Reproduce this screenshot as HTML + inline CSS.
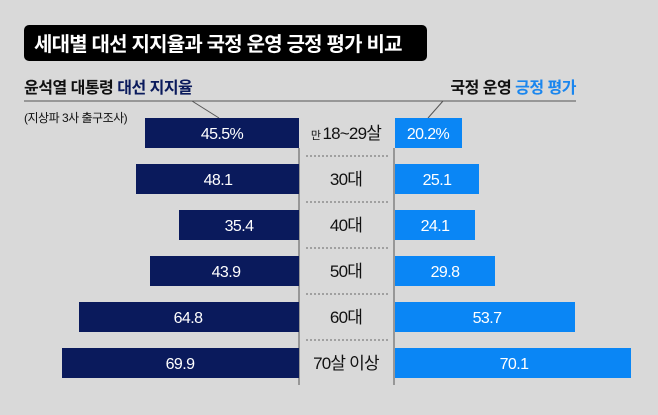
<!DOCTYPE html>
<html><head><meta charset="utf-8"><style>
body{margin:0;width:658px;height:410px;background:#d9d9d9;overflow:hidden;font-family:"Liberation Sans","Noto Sans CJK KR",sans-serif;}
svg text{font-family:"Liberation Sans","Noto Sans CJK KR",sans-serif;}
</style></head><body>
<svg width="658" height="410" viewBox="0 0 658 410" xmlns="http://www.w3.org/2000/svg">
<rect x="24" y="25" width="403" height="36" rx="5" fill="#000"/>
<text x="34" y="51" font-size="20" font-weight="bold" fill="#fff" letter-spacing="-0.8">세대별 대선 지지율과 국정 운영 긍정 평가 비교</text>
<text x="24" y="93" font-size="16" font-weight="bold" fill="#111" letter-spacing="-0.5">윤석열 대통령 <tspan fill="#0a1a5c">대선 지지율</tspan></text>
<text x="576" y="93" font-size="16" font-weight="bold" fill="#111" text-anchor="end" letter-spacing="-0.5">국정 운영 <tspan fill="#1a86ee">긍정 평가</tspan></text>
<line x1="24" y1="101" x2="576" y2="101" stroke="#555" stroke-width="1"/>
<line x1="192" y1="101" x2="219" y2="118" stroke="#555" stroke-width="1"/>
<line x1="443" y1="101" x2="428" y2="118" stroke="#555" stroke-width="1"/>
<text x="24" y="122" font-size="12" fill="#111" letter-spacing="-0.5">(지상파 3사 출구조사)</text>
<line x1="299" y1="148" x2="299" y2="385" stroke="#555" stroke-width="1"/>
<line x1="394" y1="148" x2="394" y2="385" stroke="#555" stroke-width="1"/>
<g stroke="#666" stroke-width="1" stroke-dasharray="2,2">
<line x1="306" y1="156" x2="388" y2="156"/><line x1="306" y1="202" x2="388" y2="202"/>
<line x1="306" y1="248" x2="388" y2="248"/><line x1="306" y1="294" x2="388" y2="294"/>
<line x1="306" y1="340" x2="388" y2="340"/>
</g>
<g fill="#0a1a5c">
<rect x="145" y="118" width="154" height="30"/><rect x="136" y="164" width="163" height="30"/>
<rect x="179" y="210" width="120" height="30"/><rect x="150" y="256" width="149" height="30"/>
<rect x="79" y="302" width="220" height="30"/><rect x="62" y="348" width="237" height="30"/>
</g>
<g fill="#0a86f5">
<rect x="395" y="118" width="67" height="30"/><rect x="395" y="164" width="84" height="30"/>
<rect x="395" y="210" width="80" height="30"/><rect x="395" y="256" width="100" height="30"/>
<rect x="395" y="302" width="180" height="30"/><rect x="395" y="348" width="236" height="30"/>
</g>
<g font-size="16" fill="#fff" text-anchor="middle" letter-spacing="-0.6">
<text x="222" y="139">45.5%</text><text x="218" y="185">48.1</text><text x="239" y="231">35.4</text>
<text x="226" y="277">43.9</text><text x="188" y="323">64.8</text><text x="180" y="369">69.9</text>
<text x="428" y="139">20.2%</text><text x="437" y="185">25.1</text><text x="435" y="231">24.1</text>
<text x="445" y="277">29.8</text><text x="487" y="323">53.7</text><text x="514" y="369">70.1</text>
</g>
<g font-size="17" fill="#111" text-anchor="middle" letter-spacing="-0.8">
<text x="346" y="139"><tspan font-size="11">만 </tspan>18~29살</text>
<text x="346" y="185">30대</text><text x="346" y="231">40대</text><text x="346" y="277">50대</text>
<text x="346" y="323">60대</text><text x="346" y="369">70살 이상</text>
</g>
</svg>
</body></html>
